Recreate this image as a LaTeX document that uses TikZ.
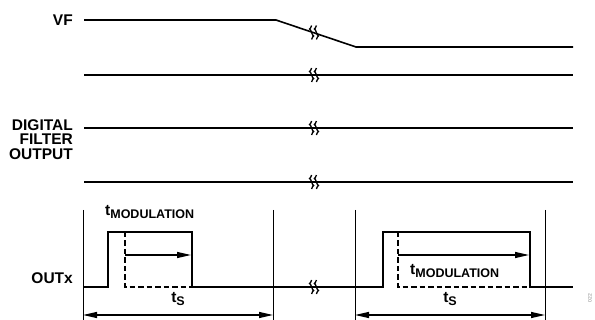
\documentclass[tikz,border=0pt]{standalone}
\usepackage{fontspec}
\setmainfont{Liberation Sans}
\usetikzlibrary{arrows.meta}

\tikzset{
	trace/.style = {line width=1.6pt, line join=miter},
	guide/.style = {line width=0.6pt},
	hidden/.style = {line width=1.2pt, dash pattern=on 5.5pt off 3pt},
	period/.style = {line width=1.2pt, {Triangle[length=14pt,width=6pt]}-{Triangle[length=14pt,width=6pt]}},
	shift arrow/.style = {line width=1.2pt, -{Triangle[length=14pt,width=6pt]}},
	lbl/.style = {font=\bfseries\fontsize{15.5}{14.5}\selectfont, inner sep=0pt},
}
% two small waves across a trace (time break)
\newcommand{\breakmark}[2]{
	\foreach \d in {-2.4,2.4}
		\draw[line width=1.3pt] (#1+\d+1,#2-7) sin ++(-2,3.5) cos ++(2,3.5) sin ++(2,3.5) cos ++(-2,3.5);
}
\newcommand{\tsub}[2]{#1\raisebox{-3.4pt}{\fontsize{12.5}{12.5}\selectfont #2}}

\begin{document}
\begin{tikzpicture}[x=1pt,y=-1pt]
	\useasboundingbox (0,0) rectangle (595,320);
	% labels
	\node[lbl, anchor=east] (vf) at (73,20) {VF};
	\node[lbl, anchor=north east, align=right] (dfo) at (73,119) {DIGITAL\\FILTER\\OUTPUT};
	\node[lbl, anchor=east] (outx) at (73,278) {OUTx};
	% traces
	\draw[trace] (84,20) -- (276,20) -- (356,47) -- (573,47);
	\draw[trace] (84,75) -- (573,75);
	\draw[trace] (84,128) -- (573,128);
	\draw[trace] (84,182) -- (573,182);
	\draw[trace] (83,287) -- (108,287) -- (108,232) -- (192,232) -- (192,287)
		-- (383,287) -- (383,232) -- (530,232) -- (530,287) -- (573,287);
	\breakmark{313}{32.5}
	\breakmark{313}{75}
	\breakmark{313}{128}
	\breakmark{313}{182}
	\breakmark{313}{287}
	% dashed reference edges
	\draw[hidden] (125,232) -- (125,287) -- (192,287);
	\draw[hidden] (398,232) -- (398,287) -- (530,287);
	% period markers
	\coordinate (ga1) at (83,210);  \coordinate (gb1) at (83,320);
	\coordinate (ga2) at (273,210); \coordinate (gb2) at (273,320);
	\coordinate (ga3) at (355,210); \coordinate (gb3) at (355,320);
	\coordinate (ga4) at (545,210); \coordinate (gb4) at (545,320);
	\foreach \i in {1,...,4}
		\draw[guide] (ga\i) -- (gb\i);
	\coordinate (ts1l) at (83,315);  \coordinate (ts1r) at (273,315);
	\coordinate (ts2l) at (355,315); \coordinate (ts2r) at (545,315);
	\draw[period] (ts1l) -- (ts1r);
	\draw[period] (ts2l) -- (ts2r);
	\node[lbl] (ts1) at (178,299) {\tsub{t}{S}};
	\node[lbl] (ts2) at (450,299) {\tsub{t}{S}};
	% modulation shift
	\coordinate (m1l) at (125,255); \coordinate (m1r) at (191,255);
	\coordinate (m2l) at (398,255); \coordinate (m2r) at (529,255);
	\draw[shift arrow] (m1l) -- (m1r);
	\draw[shift arrow] (m2l) -- (m2r);
	\node[lbl, anchor=west] (tm1) at (105,212) {\tsub{t}{MODULATION}};
	\node[lbl, anchor=west] (tm2) at (410,271) {\tsub{t}{MODULATION}};
	% figure number
	\node[font=\fontsize{5}{5}\selectfont, text=gray, rotate=90, inner sep=0pt] (fig) at (590,298) {022};
\end{tikzpicture}
\end{document}
